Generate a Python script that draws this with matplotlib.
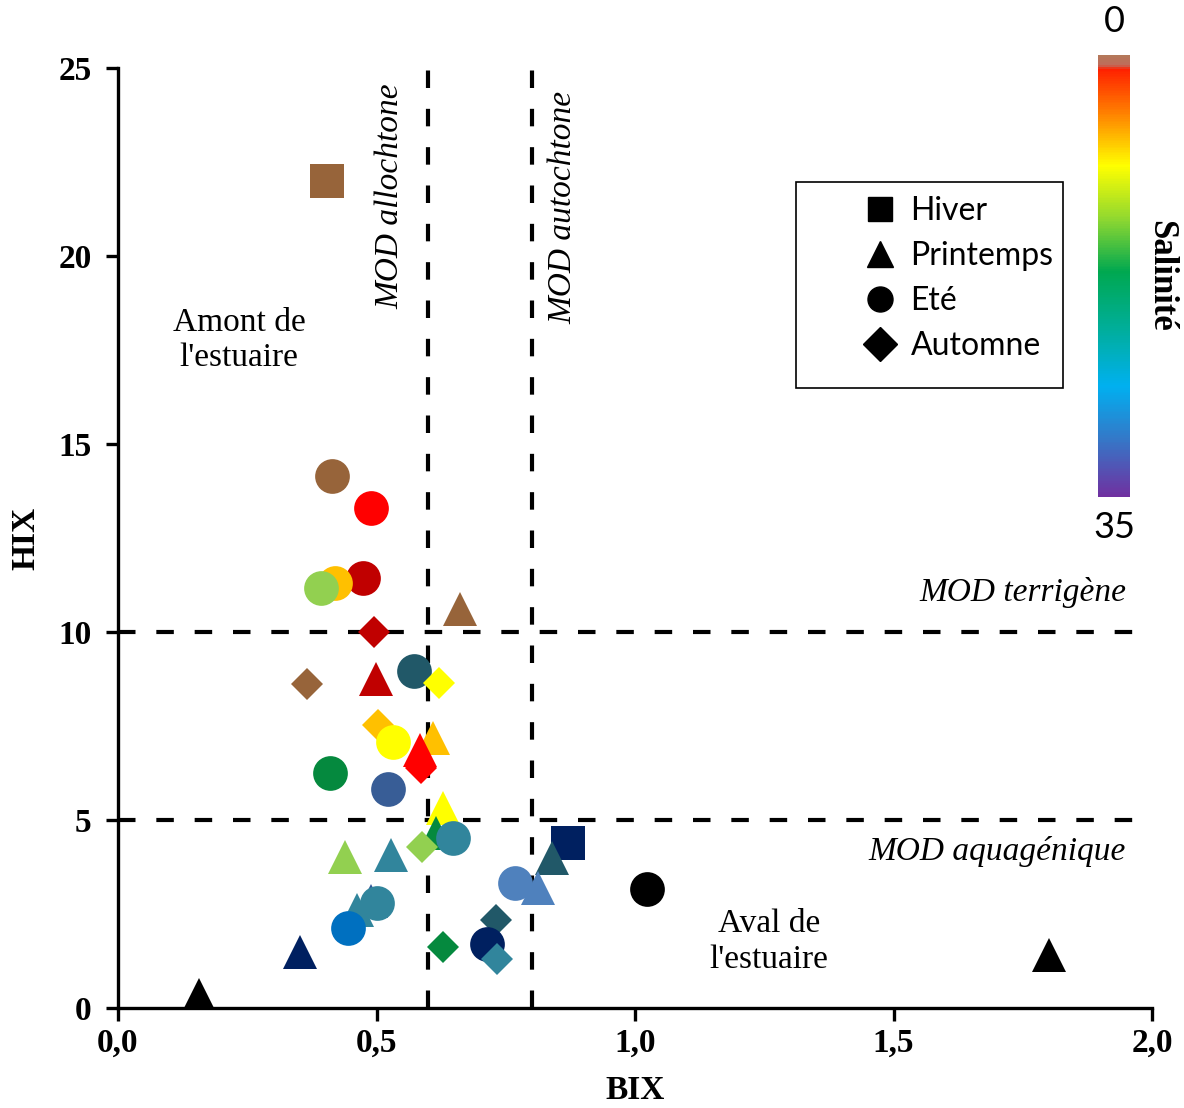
import matplotlib
matplotlib.use("Agg")
import matplotlib.pyplot as plt
from matplotlib.colors import LinearSegmentedColormap, Normalize
from matplotlib.lines import Line2D
from matplotlib.patches import Rectangle
import matplotlib.colorbar as mcolorbar

# ---------------- data ----------------
season = ["Hiver", "Eté", "Eté", "Eté", "Eté", "Eté", "Printemps", "Automne", "Automne",
          "Printemps", "Eté", "Automne", "Automne", "Printemps", "Eté", "Printemps", "Automne",
          "Eté", "Eté", "Printemps", "Printemps", "Automne", "Eté", "Printemps", "Printemps",
          "Hiver", "Printemps", "Eté", "Printemps", "Eté", "Printemps", "Printemps", "Eté",
          "Eté", "Automne", "Eté", "Automne", "Automne", "Printemps", "Printemps", "Printemps"]
bix = [0.404, 0.414, 0.489, 0.474, 0.420, 0.393, 0.661, 0.495, 0.365,
       0.499, 0.572, 0.621, 0.503, 0.609, 0.532, 0.585, 0.586,
       0.411, 0.522, 0.629, 0.615, 0.588, 0.648, 0.439, 0.528,
       0.870, 0.839, 0.767, 0.812, 1.023, 0.490, 0.462, 0.501,
       0.445, 0.731, 0.714, 0.628, 0.733, 0.352, 0.157, 1.800]
hix = [22.0, 14.15, 13.3, 11.44, 11.3, 11.17, 10.6, 10.0, 8.62,
       8.75, 8.96, 8.64, 7.53, 7.18, 7.07, 6.85, 6.38,
       6.25, 5.82, 5.32, 4.65, 4.28, 4.51, 4.02, 4.07,
       4.39, 3.99, 3.32, 3.19, 3.16, 2.85, 2.6, 2.8,
       2.12, 2.34, 1.70, 1.62, 1.30, 1.49, 0.35, 1.40]
colors = ["#97643A", "#97643A", "#FF0000", "#C00000", "#FFC000", "#92D050", "#97643A", "#C00000", "#97643A",
          "#C00000", "#215868", "#FFFF00", "#FFC000", "#FFC000", "#FFFF00", "#FF0000", "#FF0000",
          "#05893E", "#385D96", "#FFFF00", "#05893E", "#92D050", "#31859C", "#92D050", "#31859C",
          "#002060", "#215868", "#4F81BD", "#4F81BD", "#000000", "#2F5597", "#31859C", "#31859C",
          "#0070C0", "#215868", "#002060", "#05893E", "#31859C", "#002060", "#000000", "#000000"]

season_names = ["Hiver", "Printemps", "Eté", "Automne"]
season_markers = ["s", "^", "o", "D"]
season_ms = [24.5, 25.0, 25.0, 16.8]

x_ticks = [0.0, 0.5, 1.0, 1.5, 2.0]
x_ticklabels = ["0,0", "0,5", "1,0", "1,5", "2,0"]
y_ticks = [0, 5, 10, 15, 20, 25]

bix_thresholds = [0.6, 0.8]
hix_thresholds = [5, 10]

sal_min, sal_max = 0, 35

# ---------------- figure ----------------
W, H = 1184, 1108
fig = plt.figure(figsize=(W / 100, H / 100), dpi=100)
ax = fig.add_axes([118 / W, 1 - 1008 / H, (1152 - 118) / W, (1008 - 68) / H])

serif = "Liberation Serif"
sans = "Lato"

# threshold lines
for xv in bix_thresholds:
    ax.plot([xv, xv], [0, 25], color="black", lw=3, dashes=(4.2, 5.0), zorder=1)
for yv in hix_thresholds:
    ax.plot([0, 2.0], [yv, yv], color="black", lw=3, dashes=(4.2, 5.0), zorder=1)

mk = dict(zip(season_names, season_markers))
ms = dict(zip(season_names, season_ms))
for i, (s, xv, yv, c) in enumerate(zip(season, bix, hix, colors)):
    ax.plot([xv], [yv], linestyle="none", marker=mk[s], markersize=ms[s],
            color=c, markeredgewidth=0, zorder=3 + i * 0.01)

ax.set_xlim(0, 2.0)
ax.set_ylim(0, 25)
ax.set_xticks(x_ticks)
ax.set_xticklabels(x_ticklabels)
ax.set_yticks(y_ticks)
for sp in ["top", "right"]:
    ax.spines[sp].set_visible(False)
for sp in ["left", "bottom"]:
    ax.spines[sp].set_linewidth(2.4)
ax.tick_params(axis="both", direction="out", length=9, width=2.4, labelsize=24)
ax.tick_params(axis="y", pad=10)
ax.tick_params(axis="x", pad=5)
for lab in ax.get_xticklabels() + ax.get_yticklabels():
    lab.set_fontfamily(serif)
    lab.set_fontweight("bold")

ax.set_xlabel("BIX", fontsize=24, fontweight="bold", fontfamily=serif, labelpad=12)
ax.set_ylabel("HIX", fontsize=24, fontweight="bold", fontfamily=serif, labelpad=12)

# annotations
fs_ann = 24
ax.text(0.526, 24.6, "MOD allochtone", rotation=90, ha="center", va="top",
        fontsize=fs_ann, fontstyle="italic", fontfamily=serif)
ax.text(0.861, 24.4, "MOD autochtone", rotation=90, ha="center", va="top",
        fontsize=fs_ann, fontstyle="italic", fontfamily=serif)
ax.text(1.95, 11.05, "MOD terrigène", ha="right", va="center",
        fontsize=fs_ann, fontstyle="italic", fontfamily=serif)
ax.text(1.95, 4.15, "MOD aquagénique", ha="right", va="center",
        fontsize=fs_ann, fontstyle="italic", fontfamily=serif)
ax.text(0.234, 17.75, "Amont de\nl'estuaire", ha="center", va="center",
        fontsize=fs_ann, fontfamily=serif, linespacing=1.2)
ax.text(1.259, 1.76, "Aval de\nl'estuaire", ha="center", va="center",
        fontsize=fs_ann, fontfamily=serif, linespacing=1.2)

# legend
handles = [Line2D([], [], linestyle="none", marker=m, color="black", markersize=s)
           for m, s in zip(season_markers, [17, 19, 18, 17])]
leg = fig.legend(handles, season_names, loc="upper left",
                 bbox_to_anchor=(861 / W, 1 - 196 / H), bbox_transform=fig.transFigure,
                 frameon=False, prop={"family": sans, "size": 23}, borderpad=0,
                 labelspacing=0.47, handletextpad=0.35, handlelength=1.2, borderaxespad=0)
fig.patches.append(Rectangle((796 / W, 1 - 388 / H), (1063 - 796) / W, (388 - 182) / H,
                             transform=fig.transFigure, fill=False, edgecolor="black",
                             linewidth=1.2))

# colorbar
cmap = LinearSegmentedColormap.from_list("sal", [
    (0.00, "#B4785A"), (0.022, "#C06A5A"), (0.03, "#FF2000"), (0.13, "#FF8000"),
    (0.25, "#FFFF00"), (0.37, "#90D830"), (0.49, "#00A850"), (0.62, "#00AE9A"),
    (0.75, "#00B0F0"), (0.87, "#3478C8"), (1.00, "#7030A0")])
cax = fig.add_axes([1098 / W, 1 - 497 / H, 32 / W, 442 / H])
cb = mcolorbar.ColorbarBase(cax, cmap=cmap, norm=Normalize(sal_min, sal_max),
                            orientation="vertical")
cax.invert_yaxis()
cb.outline.set_visible(False)
cax.set_yticks([])
fig.text(1114 / W, 1 - 22 / H, str(sal_min), ha="center", va="center",
         fontsize=26, fontfamily=sans)
fig.text(1114 / W, 1 - 527 / H, str(sal_max), ha="center", va="center",
         fontsize=26, fontfamily=sans)
fig.text(1161 / W, 1 - 276 / H, "Salinité", rotation=-90, ha="center", va="center",
         fontsize=25, fontweight="bold", fontfamily=serif)

fig.savefig("out.png", dpi=100)
